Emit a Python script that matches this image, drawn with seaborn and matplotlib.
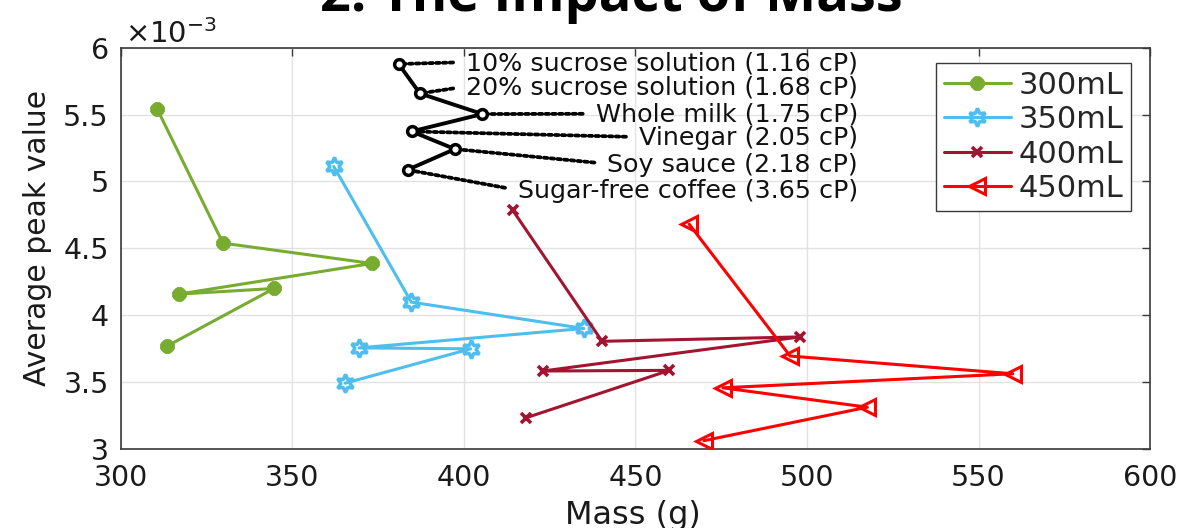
import matplotlib
matplotlib.use("Agg")
import matplotlib.pyplot as plt
from matplotlib.ticker import FuncFormatter
import seaborn as sns
import pandas as pd

# Average peak value (x1e-3) against total mass, one trace per filled volume.
# Points within each trace follow the liquid order listed in `liquids`.
volumes = ["300mL", "350mL", "400mL", "450mL"]

mass_300 = [310.6, 329.8, 373.2, 317.0, 344.7, 313.5]
peak_300 = [5.544, 4.539, 4.387, 4.158, 4.200, 3.769]

mass_350 = [362.1, 384.7, 435.0, 369.5, 402.0, 365.4]
peak_350 = [5.112, 4.098, 3.901, 3.756, 3.749, 3.492]

mass_400 = [414.3, 440.3, 498.0, 423.0, 459.9, 418.1]
peak_400 = [4.783, 3.805, 3.838, 3.583, 3.588, 3.233]

mass_450 = [465.7, 495.1, 560.0, 475.5, 517.6, 470.0]
peak_450 = [4.680, 3.695, 3.5625, 3.4575, 3.3125, 3.0625]

# Key trace showing the order of liquids along every curve
liquids = [
    "10% sucrose solution (1.16 cP)",
    "20% sucrose solution (1.68 cP)",
    "Whole milk (1.75 cP)",
    "Vinegar (2.05 cP)",
    "Soy sauce (2.18 cP)",
    "Sugar-free coffee (3.65 cP)",
]
key_mass = [381.0, 387.2, 405.4, 384.8, 397.4, 383.6]
key_peak = [5.878, 5.658, 5.504, 5.374, 5.242, 5.087]
key_label_mass = 514.9
key_label_peak = [5.883, 5.701, 5.497, 5.323, 5.123, 4.926]

x_ticks = [300, 350, 400, 450, 500, 550, 600]
y_ticks = [3.0, 3.5, 4.0, 4.5, 5.0, 5.5, 6.0]

SCALE = 1e-3

sns.set_theme(style="white")
plt.rcParams["font.family"] = ["DejaVu Sans"]
plt.rcParams["mathtext.fontset"] = "dejavusans"

fig = plt.figure(figsize=(11.83, 5.28), dpi=100)
ax = fig.add_axes([0.102, 0.1496, 0.8702, 0.7601])

styles = {
    "300mL": dict(color="#77AC30", marker=(8, 2, 0), markersize=10,
                  markeredgewidth=3.8, markerfacecolor="#77AC30",
                  markeredgecolor="#77AC30"),
    "350mL": dict(color="#4DBEEE", marker=(6, 1, 0), markersize=13,
                  markeredgewidth=2.5, markerfacecolor="none",
                  markeredgecolor="#4DBEEE"),
    "400mL": dict(color="#A2142F", marker="x", markersize=7,
                  markeredgewidth=2.6, markerfacecolor="#A2142F",
                  markeredgecolor="#A2142F"),
    "450mL": dict(color="#FF0000", marker="<", markersize=11.5,
                  markeredgewidth=2.2, markerfacecolor="none",
                  markeredgecolor="#FF0000"),
}

series = {
    "300mL": (mass_300, peak_300),
    "350mL": (mass_350, peak_350),
    "400mL": (mass_400, peak_400),
    "450mL": (mass_450, peak_450),
}

handles = []
for vol in volumes:
    m, p = series[vol]
    df = pd.DataFrame({"mass": m, "peak": [v * SCALE for v in p]})
    n_before = len(ax.lines)
    sns.lineplot(data=df, x="mass", y="peak", ax=ax, sort=False,
                 estimator=None, linewidth=2.2, legend=False, zorder=3,
                 **styles[vol])
    handles.append(ax.lines[n_before])

# order key
key_df = pd.DataFrame({"mass": key_mass, "peak": [v * SCALE for v in key_peak]})
sns.lineplot(data=key_df, x="mass", y="peak", ax=ax, sort=False,
             estimator=None, color="black", linewidth=2.8, marker="o",
             markersize=7, markeredgewidth=2.5, markerfacecolor="white",
             markeredgecolor="black", legend=False, zorder=5)

for name, km, kp, ly in zip(liquids, key_mass, key_peak, key_label_peak):
    ax.annotate(name, xy=(km, kp * SCALE), xytext=(key_label_mass, ly * SCALE),
                ha="right", va="center", fontsize=18.3, color="#111111",
                zorder=4,
                arrowprops=dict(arrowstyle="-", linestyle=(0, (0.9, 0.9)),
                                linewidth=2.7, color="black",
                                relpos=(0.0, 0.55), shrinkA=7, shrinkB=0))

ax.set_xlim(x_ticks[0], x_ticks[-1])
ax.set_ylim(y_ticks[0] * SCALE, y_ticks[-1] * SCALE)
ax.set_xticks(x_ticks)
ax.set_yticks([v * SCALE for v in y_ticks])
ax.yaxis.set_major_formatter(FuncFormatter(lambda v, pos: f"{v / SCALE:g}"))

ax.grid(True, color="#e2e2e2", linewidth=1.0)
ax.set_axisbelow(True)
for sp in ax.spines.values():
    sp.set_color("#3a3a3a")
    sp.set_linewidth(1.2)
ax.tick_params(direction="in", length=6, width=1.0, color="#3a3a3a",
               top=True, right=True, labelsize=20.5, labelcolor="#1a1a1a")
ax.tick_params(axis="x", pad=10.5)
ax.tick_params(axis="y", pad=8.5)

ax.set_xlabel("Mass (g)", fontsize=23, color="#1a1a1a")
ax.set_ylabel("Average peak value", fontsize=21.5, color="#1a1a1a")
ax.xaxis.set_label_coords(0.4977, -0.128)
ax.yaxis.set_label_coords(-0.0665, 0.525)

ax.text(0.004, 1.0125, r"$\times10^{-3}$", transform=ax.transAxes,
        fontsize=21, color="#1a1a1a", ha="left", va="baseline")

leg = ax.legend(handles, volumes, loc="upper right",
                bbox_to_anchor=(0.9815, 0.962), borderaxespad=0,
                fontsize=22, frameon=True, fancybox=False, framealpha=1,
                edgecolor="#3a3a3a", handlelength=2.2, handletextpad=0.25,
                labelspacing=0.18, borderpad=0.25)
leg.get_frame().set_linewidth(1.0)

fig.text(0.517, 1 - 11 / 528, "2. The Impact of Mass", ha="center",
         va="baseline", fontsize=39, fontweight="bold",
         family=["Open Sans", "DejaVu Sans"], color="black")

fig.savefig("out.png", dpi=100)
